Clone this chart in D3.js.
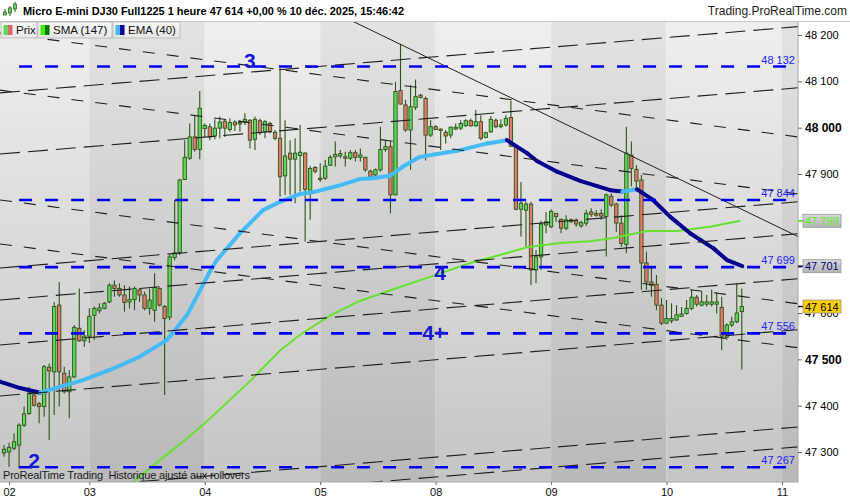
<!DOCTYPE html>
<html>
<head>
<meta charset="utf-8">
<script src="https://cdn.jsdelivr.net/npm/d3@7"></script>
<style>
  body { margin: 0; background: #fff; }
  svg { display: block; }
</style>
</head>
<body>
<div id="chart"></div>
<script>
// hourly candles, Micro E-mini DJ30, 2 to 10 Dec 2025
const opens = [47298,47300,47308,47315,47358,47383,47423,47404,47398,47483,47473,47617,47470,47430,47462,47567,47540,47550,47595,47605,
  47610,47624,47660,47653,47639,47624,47629,47650,47639,47610,47606,47653,47614,47591,47720,47730,47888,47934,47980,47953,
  47998,48002,47982,47999,48014,47996,48012,48008,48012,48016,47975,48015,47991,48009,47990,47977,47896,47945,47932,47940,
  47945,47865,47914,47891,47891,47919,47937,47939,47937,47934,47946,47936,47936,47906,47898,47909,47953,47959,47855,48080,
  48049,47995,48044,48070,48063,47984,48002,47997,47990,47984,47997,47999,48004,48015,48004,48013,47979,47991,48016,48002,
  48006,48022,47959,47824,47822,47835,47693,47721,47790,47786,47815,47802,47783,47801,47799,47788,47794,47818,47815,47815,
  47808,47852,47835,47794,47748,47941,47910,47887,47708,47667,47662,47617,47578,47583,47585,47593,47599,47610,47634,47617,
  47619,47619,47619,47612,47548,47574,47581,47603];
const highs = [47315,47320,47340,47362,47398,47441,47430,47408,47488,47491,47624,47667,47484,47477,47574,47653,47563,47610,47614,47621,
  47624,47664,47670,47664,47660,47657,47657,47653,47646,47653,47686,47655,47617,47725,47844,47890,47973,48009,48027,48079,
  48009,48009,48018,48024,48018,48020,48016,48016,48031,48018,48024,48020,48016,48013,47995,48128,48016,47973,47977,48006,
  47947,47917,47917,47923,47930,47941,47970,47952,47948,47952,47952,47955,47937,47909,47912,48002,47973,47970,48099,48181,
  48060,48092,48104,48073,48067,48016,48006,47998,47995,48002,48009,48016,48018,48020,48038,48027,47991,48025,48020,48018,
  48027,48058,47962,47883,47840,47840,47736,47799,47818,47824,47816,47804,47811,47804,47804,47799,47823,47826,47822,47824,
  47858,47858,47838,47811,48002,47970,47919,47898,47732,47700,47682,47632,47628,47621,47617,47613,47628,47650,47639,47646,
  47639,47650,47644,47635,47578,47592,47664,47653];
const lows = [47290,47268,47304,47265,47354,47380,47398,47362,47376,47326,47380,47398,47426,47373,47459,47538,47527,47535,47542,47599,
  47608,47621,47635,47635,47603,47610,47606,47624,47606,47596,47581,47614,47423,47585,47714,47725,47887,47930,47948,47932,
  47980,47973,47975,47977,47980,47991,47993,47991,48006,47955,47952,47984,47977,47988,47973,47851,47855,47855,47837,47862,
  47754,47801,47901,47883,47887,47917,47916,47934,47916,47930,47927,47927,47905,47893,47894,47905,47948,47815,47854,48050,
  47991,47909,48038,48063,47929,47980,47995,47952,47966,47977,47995,47995,48002,48002,48002,47973,47977,47989,47999,47999,
  48002,47959,47822,47765,47743,47660,47664,47693,47772,47783,47797,47772,47779,47794,47786,47784,47788,47808,47808,47801,
  47722,47829,47775,47743,47729,47873,47865,47650,47650,47635,47606,47574,47576,47578,47583,47592,47596,47606,47614,47614,
  47614,47614,47599,47520,47542,47570,47578,47478];
const closes = [47306,47310,47322,47358,47382,47427,47401,47398,47484,47475,47614,47473,47430,47462,47569,47540,47550,47593,47610,47611,
  47621,47660,47653,47639,47623,47629,47653,47639,47610,47628,47655,47617,47588,47721,47730,47887,47936,47980,47953,48042,
  48005,47980,47999,48012,47999,48011,48006,48011,48018,47973,48018,47989,48013,47991,47977,47894,47939,47932,47945,47947,
  47867,47912,47906,47888,47917,47936,47942,47944,47934,47946,47936,47941,47909,47894,47909,47953,47959,47855,48078,48051,
  47995,48045,48067,48065,47984,48002,47996,47994,47982,48001,48001,48009,48015,48004,48013,47977,47989,48018,48002,48006,
  48020,47960,47824,47837,47835,47693,47721,47792,47797,47819,47808,47783,47801,47797,47792,47795,47815,47813,47811,47809,
  47855,47833,47794,47750,47945,47912,47885,47708,47667,47660,47617,47578,47588,47588,47596,47598,47610,47634,47619,47624,
  47624,47624,47624,47550,47574,47581,47600,47614];

// moving averages: [candle index, value]
const smaPts = [[25.7,47235],[31.1,47283],[36.1,47326],[41.1,47373],[49,47453],[55,47519],[59,47553],[65,47595],
  [70.9,47626],[78.3,47654],[84.9,47678],[92.9,47708],[98.8,47725],[104.2,47742],[110.8,47751],[116.8,47755],
  [121.4,47762],[128.1,47777],[134.1,47777],[140.7,47786],[146.7,47799]];
const emaPts = [[-0.8,47452],[3.2,47438],[7.2,47428],[15.7,47455],[21.1,47477],[27.1,47506],[32.5,47542],[36.5,47596],
  [41,47689],[42.4,47714],[47,47772],[51.6,47822],[54.4,47837],[59,47857],[61.6,47861],[66.4,47874],[70.9,47889],
  [73.5,47891],[76.9,47896],[79.5,47916],[82.9,47937],[86.3,47943],[90.3,47950],[96.3,47966],[100.2,47973],
  [104.2,47945],[106.2,47928],[110.2,47905],[114.8,47885],[118.2,47874],[120.8,47865],[123.2,47862],[126.1,47867],
  [129.3,47844],[132.7,47808],[136.7,47772],[141.3,47740],[144.1,47714],[147.1,47701]];

// drawn objects
const levels = [48132, 47844, 47699, 47556, 47267];
const levelFrom = 3, levelTo = 156;
const annoText = ["3", "4", "4+", "2"];
const annoIdx = [49, 86.9, 85.7, 6];
const annoPrice = [48144, 47688, 47557, 47281];
const trendLine = [[69.4, 48230], [158.2, 47765]];
// parallel lines: price at left edge, price at right edge
const riseLines = [[48075,48218],[47943,48086],[47697,47840],[47628,47771],[47531,47674],[47421,47564],[47211,47354],[47168,47311]];
const fallLines = [[48204,47980],[48081,47857],[47844,47620],[47749,47525]];

// axes
const dayLabels = ["02", "03", "04", "05", "08", "09", "10", "11"];
const dayIdx = [1, 17, 40, 63, 86, 109, 132, 155];
const priceTicks = [47300, 47400, 47500, 47600, 47700, 47800, 47900, 48000, 48100, 48200];
const boldTicks = [47500, 48000];

const FONT = "'Liberation Sans', Arial, sans-serif";
const width = 850, height = 500;
const plotTop = 21, plotBottom = 482, plotRight = 798;

const x = d3.scaleLinear().domain([-0.8, 158.2]).range([0, plotRight]);
const y = d3.scaleLinear().domain([47300, 48200]).range([452, 35]);
const fmt = d3.formatLocale({ decimal: ",", thousands: " ", grouping: [3], currency: ["", ""] }).format(",");

const svg = d3.select("#chart").append("svg")
  .attr("width", width).attr("height", height)
  .attr("font-family", FONT);

const defs = svg.append("defs");
function vGrad(id, c0, c1) {
  const g = defs.append("linearGradient").attr("id", id)
    .attr("x1", 0).attr("y1", 0).attr("x2", 0).attr("y2", 1);
  g.append("stop").attr("offset", 0).attr("stop-color", c0);
  g.append("stop").attr("offset", 1).attr("stop-color", c1);
}
vGrad("bandLight", "#efefef", "#c5c5c5");
vGrad("bandDark", "#e3e3e3", "#b9b9b9");
vGrad("boxGray", "#d8d8d8", "#b4b4b4");
vGrad("boxLeg", "#f8f8f8", "#e6e6e6");

defs.append("clipPath").attr("id", "plotClip")
  .append("rect").attr("x", 0).attr("y", plotTop)
  .attr("width", plotRight).attr("height", plotBottom - plotTop);

// day bands
const edges = [x.domain()[0], ...dayIdx.slice(1), x.domain()[1]];
svg.append("g").selectAll("rect")
  .data(d3.pairs(edges))
  .enter().append("rect")
  .attr("x", d => x(d[0]))
  .attr("y", plotTop)
  .attr("width", d => x(d[1]) - x(d[0]))
  .attr("height", plotBottom - plotTop)
  .attr("fill", (d, k) => k % 2 === 0 ? "url(#bandLight)" : "url(#bandDark)");

const plot = svg.append("g").attr("clip-path", "url(#plotClip)");

// candles
const candles = opens.map((o, i) => ({ i, o, h: highs[i], l: lows[i], c: closes[i] }));
const bw = (x(1) - x(0)) * 0.66;

plot.append("g").selectAll("line")
  .data(candles).enter().append("line")
  .attr("x1", d => x(d.i)).attr("x2", d => x(d.i))
  .attr("y1", d => y(d.h)).attr("y2", d => y(d.l))
  .attr("stroke", "#2c5414").attr("stroke-width", 1.1);

plot.append("g").selectAll("rect")
  .data(candles).enter().append("rect")
  .attr("x", d => x(d.i) - bw / 2)
  .attr("y", d => y(Math.max(d.o, d.c)))
  .attr("width", bw)
  .attr("height", d => Math.max(1, Math.abs(y(d.o) - y(d.c))))
  .attr("fill", d => d.c >= d.o ? "#5cd85a" : "#e8786d")
  .attr("stroke", "#2c5414").attr("stroke-width", 0.9);

// SMA 147
const line = d3.line().x(d => x(d[0])).y(d => y(d[1]));
plot.append("path").datum(smaPts)
  .attr("d", line).attr("fill", "none")
  .attr("stroke", "#66e22e").attr("stroke-width", 2);

// EMA 40, coloured by slope
plot.append("g").selectAll("path")
  .data(d3.pairs(emaPts)).enter().append("path")
  .attr("d", d => line(d))
  .attr("fill", "none")
  .attr("stroke", d => d[1][1] >= d[0][1] ? "#46baf6" : "#00008f")
  .attr("stroke-width", 4)
  .attr("stroke-linecap", "round");

// parallel dashed lines
const [xa, xb] = x.domain();
plot.append("g").selectAll("line")
  .data(riseLines).enter().append("line")
  .attr("x1", x(xa)).attr("x2", x(xb))
  .attr("y1", d => y(d[0])).attr("y2", d => y(d[1]))
  .attr("stroke", "#1e1e1e").attr("stroke-width", 1.1)
  .attr("stroke-dasharray", "20,8");
plot.append("g").selectAll("line")
  .data(fallLines).enter().append("line")
  .attr("x1", x(xa)).attr("x2", x(xb))
  .attr("y1", d => y(d[0])).attr("y2", d => y(d[1]))
  .attr("stroke", "#1e1e1e").attr("stroke-width", 1.1)
  .attr("stroke-dasharray", "12,12");

// solid trend line
plot.append("path").datum(trendLine)
  .attr("d", line).attr("fill", "none")
  .attr("stroke", "#222").attr("stroke-width", 1);

// horizontal levels
plot.append("g").selectAll("line")
  .data(levels).enter().append("line")
  .attr("x1", x(levelFrom)).attr("x2", x(levelTo))
  .attr("y1", d => y(d)).attr("y2", d => y(d))
  .attr("stroke", "#0000f0").attr("stroke-width", 2.6)
  .attr("stroke-dasharray", "13,13");

plot.append("g").selectAll("text")
  .data(levels).enter().append("text")
  .attr("x", x(levelTo) + 8)
  .attr("y", d => y(d) - 3)
  .attr("text-anchor", "end")
  .attr("font-size", 11)
  .attr("fill", "#2222ff")
  .text(d => fmt(d));

plot.append("g").selectAll("text")
  .data(annoText).enter().append("text")
  .attr("x", (d, k) => x(annoIdx[k]))
  .attr("y", (d, k) => y(annoPrice[k]))
  .attr("text-anchor", "middle")
  .attr("dominant-baseline", "central")
  .attr("font-size", 21).attr("font-weight", "bold")
  .attr("fill", "#1616d8")
  .text(d => d);

plot.append("text")
  .attr("x", 3).attr("y", 479)
  .attr("font-size", 11).attr("fill", "#1a1a1a")
  .attr("textLength", 247)
  .style("white-space", "pre")
  .text("ProRealTime Trading  Historique ajusté aux rollovers");

// frame and axis areas
svg.append("rect").attr("x", plotRight).attr("y", plotTop)
  .attr("width", width - plotRight).attr("height", plotBottom - plotTop).attr("fill", "#fff");
svg.append("rect").attr("x", 0).attr("y", plotBottom)
  .attr("width", width).attr("height", height - plotBottom).attr("fill", "#fff");
svg.append("line").attr("x1", plotRight).attr("x2", plotRight)
  .attr("y1", plotTop).attr("y2", plotBottom).attr("stroke", "#a8a8a8");
svg.append("line").attr("x1", 0).attr("x2", plotRight)
  .attr("y1", plotBottom).attr("y2", plotBottom).attr("stroke", "#a8a8a8");

const yAxis = svg.append("g")
  .attr("transform", `translate(${plotRight},0)`)
  .call(d3.axisRight(y).tickValues(priceTicks).tickFormat(fmt).tickSize(4).tickPadding(3));
yAxis.attr("font-family", FONT).attr("font-size", 11);
yAxis.select(".domain").remove();
yAxis.selectAll(".tick line").attr("stroke", "#666");
yAxis.selectAll(".tick text")
  .attr("fill", "#000")
  .attr("font-size", d => boldTicks.includes(d) ? 12 : 11)
  .attr("font-weight", d => boldTicks.includes(d) ? "bold" : "normal");

const xAxis = svg.append("g")
  .attr("transform", `translate(0,${plotBottom})`)
  .call(d3.axisBottom(x).tickValues(dayIdx).tickFormat((d, k) => dayLabels[k]).tickSize(3).tickPadding(3));
xAxis.attr("font-family", FONT).attr("font-size", 11);
xAxis.select(".domain").remove();
xAxis.selectAll(".tick line").attr("stroke", "#666");
xAxis.selectAll(".tick text").attr("fill", "#111");

// last value boxes
const lastBoxes = [
  { v: smaPts[smaPts.length - 1][1], fill: "url(#boxGray)", text: "#55ee22", stub: "#55ee22" },
  { v: emaPts[emaPts.length - 1][1], fill: "url(#boxGray)", text: "#000080", stub: "#000080" },
  { v: closes[closes.length - 1], fill: "#ffcc00", text: "#000", stub: "#000" }
];
const boxes = svg.append("g").selectAll("g").data(lastBoxes).enter().append("g");
boxes.append("line")
  .attr("x1", plotRight).attr("x2", plotRight + 5)
  .attr("y1", d => y(d.v)).attr("y2", d => y(d.v))
  .attr("stroke", d => d.stub).attr("stroke-width", 1.5);
boxes.append("rect")
  .attr("x", plotRight + 5).attr("y", d => y(d.v) - 6.5)
  .attr("width", 38).attr("height", 13)
  .attr("fill", d => d.fill).attr("stroke", "#999").attr("stroke-width", 0.8);
boxes.append("text")
  .attr("x", plotRight + 7).attr("y", d => y(d.v) + 4)
  .attr("font-size", 11).attr("fill", d => d.text)
  .text(d => fmt(d.v));

// header
svg.append("rect").attr("width", width).attr("height", plotTop).attr("fill", "#fff");
svg.append("line").attr("x1", 0).attr("x2", width)
  .attr("y1", plotTop + 0.5).attr("y2", plotTop + 0.5).attr("stroke", "#c8c8c8");

const icon = svg.append("g").attr("stroke", "#2c5414");
[[5, 12, 15, 9, 14], [10, 8, 13, 6, 16], [15, 4, 9, 2, 12]].forEach(c => {
  icon.append("line").attr("x1", c[0]).attr("x2", c[0]).attr("y1", c[3]).attr("y2", c[4]);
  icon.append("rect").attr("x", c[0] - 1.5).attr("y", c[1]).attr("width", 3).attr("height", c[2] - c[1])
    .attr("fill", "#5cd85a").attr("stroke-width", 0.7);
});

svg.append("text")
  .attr("x", 23).attr("y", 15)
  .attr("font-size", 11.5).attr("font-weight", "bold").attr("fill", "#000")
  .attr("textLength", 381).attr("lengthAdjust", "spacingAndGlyphs")
  .text(`Micro E-mini DJ30 Full1225 1 heure ${fmt(closes[closes.length - 1])} +0,00 % 10 déc. 2025, 15:46:42`);
svg.append("text")
  .attr("x", 847).attr("y", 15).attr("text-anchor", "end")
  .attr("font-size", 12).attr("fill", "#222")
  .text("Trading.ProRealTime.com");

// legend
const legend = [
  { label: "Prix", c1: "#5cd65c", c2: "#e06868", x0: 1, w: 36 },
  { label: "SMA (147)", c1: "#44ee00", c2: "#007700", x0: 38, w: 74 },
  { label: "EMA (40)", c1: "#44bbff", c2: "#000099", x0: 113, w: 67 }
];
const lg = svg.append("g").selectAll("g").data(legend).enter().append("g")
  .attr("transform", d => `translate(${d.x0},22)`);
lg.append("rect").attr("width", d => d.w).attr("height", 16)
  .attr("fill", "url(#boxLeg)").attr("stroke", "#b4b4b4").attr("stroke-width", 0.8);
lg.append("rect").attr("x", 2.5).attr("y", 3).attr("width", 4.5).attr("height", 10).attr("fill", d => d.c1);
lg.append("rect").attr("x", 7).attr("y", 3).attr("width", 4.5).attr("height", 10).attr("fill", d => d.c2);
lg.append("text").attr("x", 15).attr("y", 12)
  .attr("font-size", 11.5).attr("fill", "#111")
  .text(d => d.label);
</script>
</body>
</html>
